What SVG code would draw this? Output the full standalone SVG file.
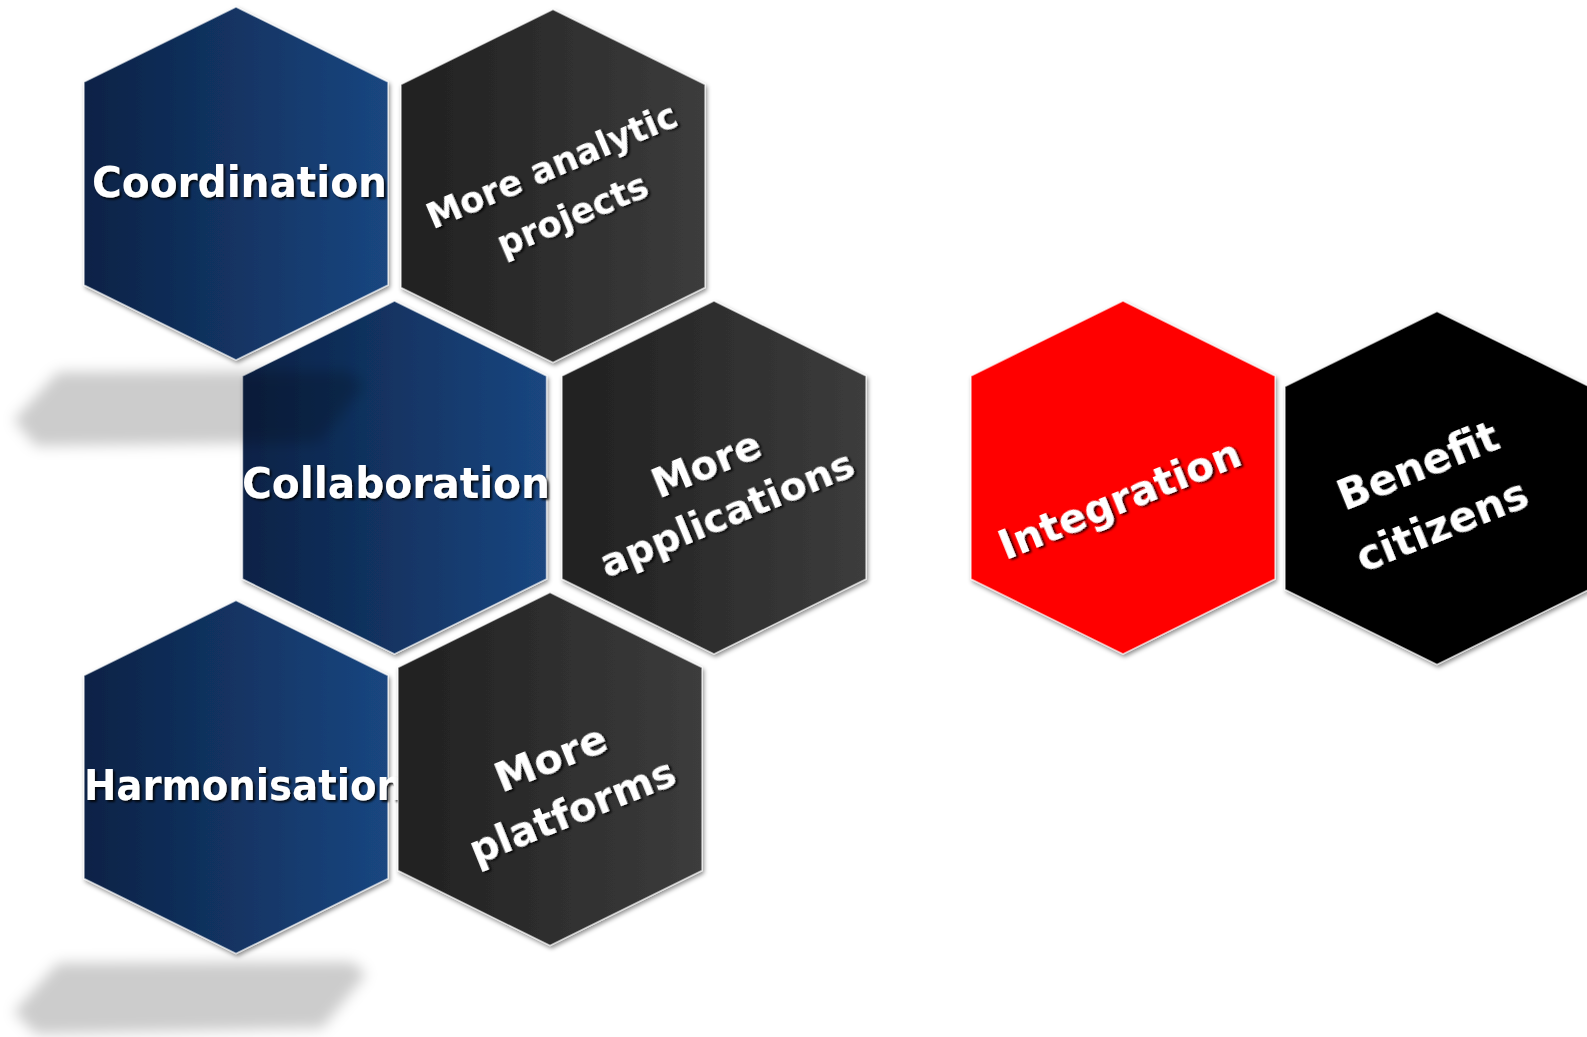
<svg xmlns="http://www.w3.org/2000/svg" xmlns:xlink="http://www.w3.org/1999/xlink" width="1587" height="1037" viewBox="0 0 1587 1037">
<style>
.lbl{font-family:"DejaVu Sans","Liberation Sans",sans-serif;font-weight:bold;fill:#ffffff;filter:url(#tshadow)}
.hx{stroke:#ffffff;stroke-opacity:0.6;stroke-width:1.5;filter:url(#hshadow)}
.blue{fill:url(#gBlue)}
.dark{fill:url(#gDark)}
.red{fill:#ff0000}
.black{fill:#000000}
.shadow{fill:#000000;fill-opacity:0.2;filter:url(#blur)}
</style>
<defs>
<linearGradient id="gBlue" x1="0" y1="0" x2="1" y2="0">
<stop offset="0" stop-color="#0b2246"/>
<stop offset="1" stop-color="#1a4680"/>
</linearGradient>
<linearGradient id="gDark" x1="0" y1="0" x2="1" y2="0">
<stop offset="0" stop-color="#202020"/>
<stop offset="1" stop-color="#3c3c3c"/>
</linearGradient>
<filter id="hshadow" x="-10%" y="-10%" width="125%" height="125%">
<feDropShadow dx="1.5" dy="2.5" stdDeviation="2" flood-color="#000" flood-opacity="0.45"/>
</filter>
<filter id="tshadow" x="-10%" y="-30%" width="120%" height="160%">
<feDropShadow dx="2" dy="2" stdDeviation="1.2" flood-color="#000" flood-opacity="0.85"/>
</filter>
<filter id="blur" x="-20%" y="-50%" width="140%" height="200%">
<feGaussianBlur stdDeviation="7"/>
</filter>
<polygon id="hex" points="0,-176.5 152,-101.5 152,101.5 0,176.5 -152,101.5 -152,-101.5"/>
</defs>

<g id="node-coordination">
<use xlink:href="#hex" href="#hex" x="236" y="183.5" class="hx blue"/>
<text class="lbl" x="239.5" y="197" font-size="42" text-anchor="middle" textLength="295" lengthAdjust="spacingAndGlyphs">Coordination</text>
</g>

<g id="node-more-analytic-projects">
<use xlink:href="#hex" href="#hex" x="553" y="186" class="hx dark"/>
<g transform="translate(562,190) rotate(-23)">
<text class="lbl" x="0" y="-14" font-size="35" text-anchor="middle">More analytic</text>
<text class="lbl" x="0" y="39" font-size="35" text-anchor="middle">projects</text>
</g>
</g>

<g id="node-collaboration">
<use xlink:href="#hex" href="#hex" x="394.5" y="477.5" class="hx blue"/>
<text class="lbl" x="396" y="498" font-size="42" text-anchor="middle" textLength="308" lengthAdjust="spacingAndGlyphs">Collaboration</text>
</g>

<g id="node-more-applications">
<use xlink:href="#hex" href="#hex" x="714" y="477.5" class="hx dark"/>
<g transform="translate(717,490) rotate(-22.5)">
<text class="lbl" x="0" y="-14" font-size="40" text-anchor="middle">More</text>
<text class="lbl" x="0" y="39" font-size="39.5" text-anchor="middle">applications</text>
</g>
</g>

<g id="node-harmonisation">
<use xlink:href="#hex" href="#hex" x="236" y="777" class="hx blue"/>
<text class="lbl" x="244" y="800" font-size="42" text-anchor="middle" textLength="320" lengthAdjust="spacingAndGlyphs">Harmonisation</text>
</g>

<g id="node-more-platforms">
<use xlink:href="#hex" href="#hex" x="550" y="769" class="hx dark"/>
<g transform="translate(562,786) rotate(-22)">
<text class="lbl" x="0" y="-16" font-size="41" text-anchor="middle">More</text>
<text class="lbl" x="0" y="41" font-size="40" text-anchor="middle">platforms</text>
</g>
</g>

<g id="node-integration">
<use xlink:href="#hex" href="#hex" x="1123" y="477.5" class="hx red"/>
<g transform="translate(1121,503) rotate(-22)">
<text class="lbl" x="0" y="10" font-size="40.5" text-anchor="middle">Integration</text>
</g>
</g>

<g id="node-benefit-citizens">
<use xlink:href="#hex" href="#hex" x="1437" y="488" class="hx black"/>
<g transform="translate(1430,496) rotate(-22)">
<text class="lbl" x="0" y="-18" font-size="42" text-anchor="middle">Benefit</text>
<text class="lbl" x="0" y="46" font-size="42" text-anchor="middle">citizens</text>
</g>
</g>

<g id="shadows">
<polygon class="shadow" points="14,420 58,372 348,371 364,385 320,442 36,446"/>
<polygon class="shadow" points="14,1012 58,963 352,962 366,974 322,1028 36,1034"/>
</g>

<g id="connectors"></g>
</svg>
